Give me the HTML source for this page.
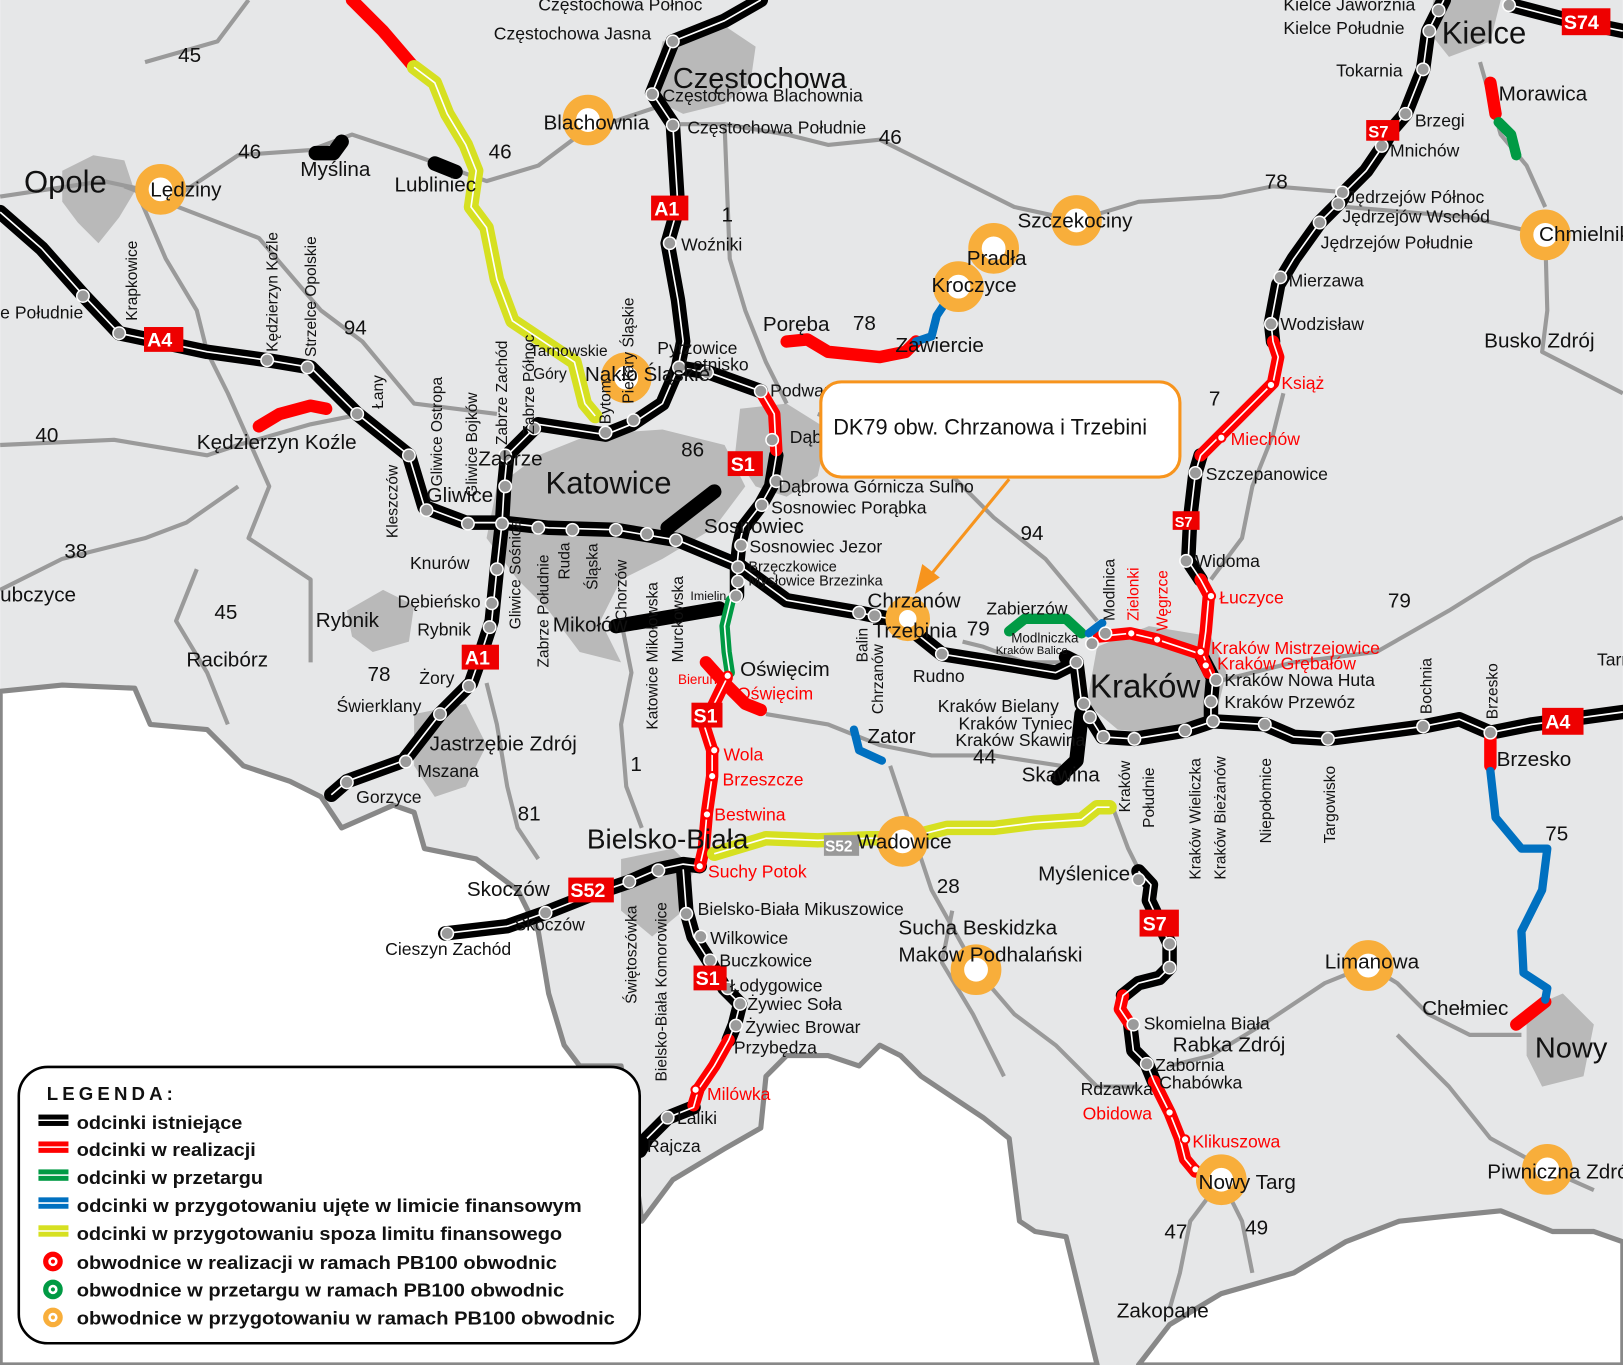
<!DOCTYPE html>
<html><head><meta charset="utf-8"><style>
html,body{margin:0;padding:0;background:#fff;}
svg{display:block}
text{font-family:"Liberation Sans",sans-serif;fill:#111}
.hw{fill:none;stroke:#000;stroke-width:14;stroke-linejoin:round;stroke-linecap:round}
.rd{fill:none;stroke:#f00;stroke-width:12;stroke-linejoin:round;stroke-linecap:round}
.gr{fill:none;stroke:#009a44;stroke-width:10;stroke-linejoin:round;stroke-linecap:round}
.bl{fill:none;stroke:#0070c0;stroke-width:8;stroke-linejoin:round;stroke-linecap:round}
.ye{fill:none;stroke:#d6e021;stroke-width:14;stroke-linejoin:round;stroke-linecap:round}
.ln{fill:none;stroke:#fff;stroke-width:1.6;stroke-linejoin:round}
.road{fill:none;stroke:#9a9a9a;stroke-width:4;stroke-linejoin:round}
.city{fill:#b9b9b9}
.n{fill:#9b9b9b;stroke:#fff;stroke-width:1.5}
.o{fill:#fff;stroke:#f8ae3b;stroke-width:13}
.rl{fill:#e00}
.s{font-size:17px}
.m{font-size:20px}
.r{fill:#f00}
</style></head><body>
<svg width="1623" height="1365" viewBox="0 0 1568 1319" xmlns="http://www.w3.org/2000/svg">
<rect width="1568" height="1319" fill="#e6e7e8"/>
<!-- white outside border -->
<path d="M0,668 L60,662 130,665 145,700 200,705 235,740 280,755 310,770 330,800 380,778 400,785 410,820 460,830 500,860 520,900 530,960 545,1010 560,1030 600,1030 620,1180 650,1140 700,1110 735,1090 740,1040 760,1020 800,1020 830,1030 850,1010 870,1020 890,1040 920,1060 950,1080 975,1100 985,1180 1000,1190 1030,1195 1060,1319 L0,1319 Z" fill="#fff" stroke="#888" stroke-width="5" stroke-linejoin="round"/>
<path d="M1100,1319 L1130,1280 1180,1250 1250,1230 1300,1200 1352,1180 1400,1175 1450,1170 1500,1190 1540,1190 1568,1200 1568,1319 Z" fill="#fff" stroke="#888" stroke-width="5" stroke-linejoin="round"/>
<!-- cities -->
<path class="city" d="M60,165 L90,150 120,155 130,185 115,210 95,235 75,215 60,195Z"/>
<path class="city" d="M640,40 L700,25 730,45 725,80 700,100 660,110 630,95Z"/>
<path class="city" d="M520,440 L570,420 640,415 700,430 720,470 690,510 640,540 600,560 580,600 600,640 560,630 530,590 500,560 470,520 480,470Z"/>
<path class="city" d="M715,395 L760,390 800,415 790,460 760,480 730,470 710,440Z"/>
<path class="city" d="M335,590 L370,570 400,585 395,620 360,630 340,615Z"/>
<path class="city" d="M1060,625 L1110,605 1170,615 1185,650 1175,690 1130,710 1080,705 1050,680Z"/>
<path class="city" d="M1385,0 L1450,0 1440,40 1400,55 1380,30Z"/>
<path class="city" d="M600,830 L650,820 670,840 660,880 630,905 600,880Z"/>
<path class="city" d="M400,690 L450,680 470,720 450,760 420,770 400,740Z"/>
<path class="city" d="M1475,975 L1510,960 1540,990 1530,1040 1490,1050 1475,1020Z"/>
<!-- gray roads -->
<g class="road">
<path d="M140,60 L210,40 240,0"/>
<path d="M0,190 L100,175 170,190 230,150 300,145 340,130 400,150 470,175 520,160 560,130 600,115 645,100"/>
<path d="M130,180 L160,250 190,300 200,340 220,380 260,470 240,520 300,560 300,640"/>
<path d="M120,180 L250,230 310,300 350,330 400,390 480,400"/>
<path d="M0,430 L110,425 200,440 230,430 300,410 350,400"/>
<path d="M0,570 L60,540 140,520 180,505 230,470"/>
<path d="M190,550 L170,600 200,650 220,700"/>
<path d="M650,120 L700,120 760,130 800,140 850,135 900,160 980,200 1040,213 1100,195 1180,190 1230,180 1290,185"/>
<path d="M700,120 L705,250 720,300 740,350 760,390"/>
<path d="M790,400 L900,440 960,500 1010,540 1060,600"/>
<path d="M1300,200 L1420,210 1493,227 1495,300 1490,340 1568,380"/>
<path d="M1430,60 L1450,130 1475,160 1493,200"/>
<path d="M1170,560 L1200,520 1210,470 1230,420 1240,380"/>
<path d="M1170,660 L1250,640 1330,630 1400,590 1480,540 1568,500"/>
<path d="M1040,640 L990,640 950,625 930,620"/>
<path d="M740,690 L800,700 850,720 900,730 960,730 1025,740"/>
<path d="M860,740 L880,800 900,860 943,937 980,980 1020,1010 1060,1050 1100,1050"/>
<path d="M1075,780 L1090,820 1100,840"/>
<path d="M1130,1030 L1170,1020 1220,990 1280,950 1322,933 1350,950 1380,980 1420,1000 1470,1000"/>
<path d="M1180,1140 L1150,1180 1140,1230 1130,1265 M1180,1140 L1200,1180 1210,1230"/>
<path d="M1350,1000 L1400,1050 1440,1100 1495,1130 1540,1150"/>
<path d="M600,600 L610,650 600,700 605,760 620,800"/>
<path d="M470,660 L480,700 490,760 500,800 520,830"/>
<path d="M920,880 L910,930 940,980 970,1040"/>
</g>
<!-- highways black -->
<g>
<path class="hw" d="M735,0 L700,20 650,40 630,90 650,120 655,200 645,235 655,290 660,330 655,355 640,390 610,410 585,420 520,410 490,440 487,470 485,505 480,550 475,600 462,640 455,660 425,690 390,735 335,755 320,768"/>
<path class="hw" d="M0,205 L40,240 80,285 115,322 200,340 258,348 300,355 345,400 395,440 410,490 450,505 485,505 530,510 595,512 655,522 715,547 760,580 830,592 870,600 910,632 960,640 1020,650 1040,640 1045,680 1065,712 1096,714 1145,706 1172,697 1222,700 1250,712 1283,714 1375,702 1410,695 1440,708 1480,700 1568,688"/>
<path class="hw" d="M655,355 L685,360 735,378"/>
<path class="hw" d="M750,440 L745,470 735,488 718,510 714,527 712,547 712,575"/>
<path class="hw" d="M676,837 L660,835 636,840 608,852 570,865 527,882 490,895 430,902"/>
<path class="hw" d="M660,840 L663,880 670,905 686,930 700,955 715,970 710,990 704,1005"/>
<path class="hw" d="M670,1070 L645,1080 625,1100 618,1112"/>
<path class="hw" d="M1460,5 L1510,18 1568,30"/>
<path class="hw" d="M1395,0 L1380,30 1375,67 1358,110 1345,125 1335,143 1320,165 1300,185 1295,195 1275,215 1250,250 1235,275 1228,312 1230,330"/>
<path class="hw" d="M1160,440 L1155,457 1150,500 1148,542 1160,560"/>
<path class="hw" d="M1040,640 L1030,635 M1045,690 L1040,735 1022,752"/>
<path class="hw" d="M1160,632 L1172,655 1170,678 1170,697"/>
<path class="hw" d="M1100,842 L1112,855 1110,870 1130,912 1130,935 1120,945 1100,950 1085,962"/>
<path class="hw" d="M1092,990 L1095,1015 1108,1028 1115,1045"/>
<path class="hw" d="M305,148 L322,148 330,137 M420,158 L440,166 M645,510 L690,475 M595,605 L695,588"/>
</g>
<!-- red -->
<g>
<path class="rd" d="M340,0 L370,30 400,65"/>
<path class="rd" d="M735,378 L748,400 750,435"/>
<path class="rd" d="M682,640 L700,660 720,680 735,686 M702,655 L690,680 680,700 688,725 688,750 683,785 680,820 676,837"/>
<path class="rd" d="M704,1005 L690,1030 675,1052 670,1068"/>
<path class="rd" d="M1230,330 L1235,345 1230,370 1200,400 1175,425 1160,440"/>
<path class="rd" d="M1160,560 L1168,575 1165,610 1162,632 M1062,615 L1092,612 1118,618 1160,632 1168,650"/>
<path class="rd" d="M1085,962 L1082,975 1092,990 M1115,1045 L1130,1075 1140,1100 1145,1120 1155,1132"/>
<path class="rd" d="M760,330 L780,328 800,340 850,345 875,340 885,330"/>
<path class="rd" d="M250,412 L270,400 300,392 315,395"/>
<path class="rd" d="M1440,80 L1445,110 M1440,708 L1440,740 M1493,968 L1465,990"/>
</g>
<path class="gr" d="M706,580 L700,605 702,630 705,650"/>
<path class="gr" d="M975,610 L990,598 1030,598 1045,612"/>
<path class="gr" d="M1448,118 L1460,130 1465,150"/>
<path class="bl" d="M885,330 L900,325 905,305 915,290"/>
<path class="bl" d="M825,705 L830,725 852,735"/>
<path class="bl" d="M1052,612 L1065,602"/>
<path class="bl" d="M1440,745 L1445,790 1470,820 1495,820 1490,860 1470,900 1472,940 1495,955 1493,966"/>
<path class="ye" d="M400,65 L420,80 432,110 450,140 460,165 455,200 470,220 480,270 495,310 525,330 555,350 560,370 565,390 575,402"/>
<path class="ye" d="M690,825 L740,810 790,812 840,810 875,810 915,800 960,800 1000,795 1045,792 1060,780 1072,780"/>
<!-- white center lines -->
<g class="ln">
<path d="M735,0 L700,20 650,40 630,90 650,120 655,200 645,235 655,290 660,330 655,355 640,390 610,410 585,420 520,410 490,440 487,470 485,505 480,550 475,600 462,640 455,660 425,690 390,735 335,755 320,768"/>
<path d="M0,205 L40,240 80,285 115,322 200,340 258,348 300,355 345,400 395,440 410,490 450,505 485,505 530,510 595,512 655,522 715,547 760,580 830,592 870,600 910,632 960,640 1020,650 1040,640 1045,680 1065,712 1096,714 1145,706 1172,697 1222,700 1250,712 1283,714 1375,702 1410,695 1440,708 1480,700 1568,688"/>
<path d="M655,355 L685,360 735,378 748,400 750,440 745,470 735,488 718,510 714,527 712,547 712,575 706,580 700,605 702,630 705,650 690,680 680,700 688,725 688,750 683,785 680,820 676,837"/>
<path d="M676,837 L660,835 636,840 608,852 570,865 527,882 490,895 430,902"/>
<path d="M660,840 L663,880 670,905 686,930 700,955 715,970 710,990 704,1005 690,1030 675,1052 670,1070 645,1080 625,1100"/>
<path d="M1395,0 L1380,30 1375,67 1358,110 1345,125 1335,143 1320,165 1300,185 1295,195 1275,215 1250,250 1235,275 1228,312 1230,330 1235,345 1230,370 1200,400 1175,425 1160,440 1155,457 1150,500 1148,542 1160,560 1168,575 1165,610 1162,632 1172,655 1170,678 1170,697"/>
<path d="M1062,615 L1092,612 1118,618 1160,632"/>
<path d="M1100,842 L1112,855 1110,870 1130,912 1130,935 1120,945 1100,950 1085,962 1082,975 1092,990 1095,1015 1108,1028 1115,1045 1130,1075 1140,1100 1145,1120 1155,1132"/>
<path d="M400,65 L420,80 432,110 450,140 460,165 455,200 470,220 480,270 495,310 525,330 555,350 560,370 565,390 575,402"/>
<path d="M690,825 L740,810 790,812 840,810 875,810 915,800 960,800 1000,795 1045,792 1060,780 1072,780"/>
<path d="M1460,5 L1510,18 1568,30"/>
</g>
<!-- nodes -->
<g class="n">
<circle cx="650" cy="40" r="6"/><circle cx="630" cy="91" r="6"/><circle cx="650" cy="121" r="6"/><circle cx="647" cy="235" r="6"/>
<circle cx="656" cy="355" r="6"/><circle cx="683" cy="360" r="6"/><circle cx="735" cy="378" r="6"/><circle cx="612" cy="406" r="6"/><circle cx="585" cy="418" r="6"/>
<circle cx="516" cy="414" r="6"/><circle cx="488" cy="440" r="6"/><circle cx="488" cy="470" r="6"/><circle cx="480" cy="550" r="6"/><circle cx="475" cy="583" r="6"/><circle cx="473" cy="606" r="6"/>
<circle cx="453" cy="663" r="6"/><circle cx="425" cy="690" r="6"/><circle cx="392" cy="736" r="6"/><circle cx="335" cy="756" r="6"/>
<circle cx="80" cy="286" r="6"/><circle cx="115" cy="322" r="6"/><circle cx="258" cy="348" r="6"/><circle cx="297" cy="355" r="6"/><circle cx="345" cy="400" r="6"/><circle cx="395" cy="440" r="6"/>
<circle cx="412" cy="493" r="6"/><circle cx="452" cy="506" r="6"/><circle cx="485" cy="506" r="6"/><circle cx="520" cy="510" r="6"/><circle cx="553" cy="512" r="6"/><circle cx="595" cy="512" r="6"/><circle cx="625" cy="516" r="6"/><circle cx="653" cy="522" r="6"/>
<circle cx="746" cy="425" r="6"/><circle cx="750" cy="465" r="6"/><circle cx="736" cy="488" r="6"/><circle cx="716" cy="527" r="6"/><circle cx="713" cy="548" r="6"/><circle cx="713" cy="562" r="6"/><circle cx="711" cy="576" r="6"/>
<circle cx="830" cy="592" r="6"/><circle cx="845" cy="595" r="6"/><circle cx="910" cy="632" r="6"/><circle cx="1040" cy="640" r="6"/><circle cx="1047" cy="680" r="6"/><circle cx="1053" cy="693" r="6"/><circle cx="1066" cy="712" r="6"/><circle cx="1096" cy="714" r="6"/><circle cx="1145" cy="706" r="6"/><circle cx="1172" cy="697" r="6"/><circle cx="1170" cy="678" r="6"/><circle cx="1175" cy="657" r="6"/><circle cx="1222" cy="700" r="6"/><circle cx="1283" cy="714" r="6"/><circle cx="1375" cy="702" r="6"/><circle cx="1440" cy="708" r="6"/>
<circle cx="1068" cy="612" r="6"/><circle cx="1055" cy="622" r="6"/>
<circle cx="636" cy="841" r="6"/><circle cx="608" cy="852" r="6"/><circle cx="527" cy="882" r="6"/><circle cx="432" cy="902" r="6"/>
<circle cx="663" cy="883" r="6"/><circle cx="677" cy="905" r="6"/><circle cx="686" cy="928" r="6"/><circle cx="703" cy="955" r="6"/><circle cx="715" cy="970" r="6"/><circle cx="711" cy="991" r="6"/><circle cx="645" cy="1080" r="6"/>
<circle cx="1390" cy="10" r="6"/><circle cx="1381" cy="30" r="6"/><circle cx="1375" cy="67" r="6"/><circle cx="1358" cy="110" r="6"/><circle cx="1335" cy="141" r="6"/><circle cx="1297" cy="186" r="6"/><circle cx="1293" cy="197" r="6"/><circle cx="1275" cy="215" r="6"/><circle cx="1237" cy="268" r="6"/><circle cx="1228" cy="313" r="6"/><circle cx="1155" cy="457" r="6"/><circle cx="1146" cy="542" r="6"/><circle cx="1458" cy="5" r="6"/>
<circle cx="1100" cy="850" r="6"/><circle cx="1130" cy="912" r="6"/><circle cx="1130" cy="935" r="6"/><circle cx="1095" cy="990" r="6"/><circle cx="1108" cy="1028" r="6"/>
</g>
<!-- red nodes -->
<g fill="#fff" stroke="#f00" stroke-width="2">
<circle cx="703" cy="653" r="4"/><circle cx="690" cy="725" r="4"/><circle cx="688" cy="750" r="4"/><circle cx="683" cy="787" r="4"/><circle cx="676" cy="837" r="4"/><circle cx="672" cy="1053" r="4"/>
<circle cx="1228" cy="372" r="4"/><circle cx="1180" cy="423" r="4"/><circle cx="1170" cy="576" r="4"/><circle cx="1093" cy="612" r="4"/><circle cx="1118" cy="618" r="4"/><circle cx="1160" cy="630" r="4"/><circle cx="1165" cy="643" r="4"/>
<circle cx="1130" cy="1075" r="4"/><circle cx="1145" cy="1101" r="4"/><circle cx="1155" cy="1130" r="4"/>
</g>
<!-- orange rings -->
<g class="o">
<circle cx="155" cy="183" r="18"/><circle cx="568" cy="116" r="18"/><circle cx="605" cy="365" r="18"/><circle cx="1040" cy="213" r="18"/><circle cx="960" cy="240" r="18"/><circle cx="926" cy="277" r="18"/><circle cx="877" cy="598" r="15"/><circle cx="1493" cy="227" r="18"/><circle cx="872" cy="813" r="18"/><circle cx="943" cy="937" r="18"/><circle cx="1322" cy="933" r="18"/><circle cx="1180" cy="1140" r="18"/><circle cx="1495" cy="1130" r="18"/>
</g>
<!-- road shields -->
<g font-family="Liberation Sans" font-weight="bold" font-size="19">
<rect class="rl" x="629" y="189" width="36" height="24"/><text x="632" y="208" fill="#fff" style="fill:#fff">A1</text>
<rect class="rl" x="139" y="316" width="38" height="24"/><text x="142" y="335" style="fill:#fff">A4</text>
<rect class="rl" x="446" y="623" width="36" height="24"/><text x="449" y="642" style="fill:#fff">A1</text>
<rect class="rl" x="703" y="436" width="34" height="24"/><text x="706" y="455" style="fill:#fff">S1</text>
<rect class="rl" x="668" y="679" width="30" height="24"/><text x="670" y="698" style="fill:#fff">S1</text>
<rect class="rl" x="670" y="933" width="32" height="24"/><text x="672" y="952" style="fill:#fff">S1</text>
<rect class="rl" x="549" y="848" width="44" height="24"/><text x="551" y="867" style="fill:#fff">S52</text>
<rect class="rl" x="1320" y="116" width="32" height="20"/><text x="1322" y="133" font-size="16" style="fill:#fff">S7</text>
<rect class="rl" x="1133" y="494" width="26" height="18"/><text x="1135" y="509" font-size="14" style="fill:#fff">S7</text>
<rect class="rl" x="1101" y="879" width="38" height="26"/><text x="1104" y="899" style="fill:#fff">S7</text>
<rect class="rl" x="1490" y="684" width="40" height="26"/><text x="1493" y="704" style="fill:#fff">A4</text>
<rect class="rl" x="1509" y="8" width="47" height="26"/><text x="1511" y="28" style="fill:#fff">S74</text>
<rect fill="#999" x="796" y="807" width="34" height="20"/><text x="797" y="823" font-size="15" style="fill:#fff">S52</text>
</g>
<!-- labels -->
<g class="m">
<text x="23" y="186" font-size="30">Opole</text>
<text x="145" y="190">Lędziny</text>
<text x="290" y="170">Myślina</text>
<text x="381" y="185">Lubliniec</text>
<text x="525" y="125">Blachownia</text>
<text x="650" y="85" font-size="28">Częstochowa</text>
<text x="477" y="38" class="s">Częstochowa Jasna</text>
<text x="520" y="10" class="s">Częstochowa Północ</text>
<text x="640" y="98" class="s">Częstochowa Blachownia</text>
<text x="664" y="129" class="s">Częstochowa Południe</text>
<text x="658" y="242" class="s">Woźniki</text>
<text x="737" y="320">Poręba</text>
<text x="865" y="340">Zawiercie</text>
<text x="900" y="282">Kroczyce</text>
<text x="934" y="256">Pradła</text>
<text x="983" y="220">Szczekociny</text>
<text x="1487" y="233">Chmielnik</text>
<text x="1434" y="336">Busko Zdrój</text>
<text x="1448" y="97">Morawica</text>
<text x="1393" y="42" font-size="30">Kielce</text>
<text x="1240" y="10" class="s">Kielce Jaworznia</text>
<text x="1240" y="33" class="s">Kielce Południe</text>
<text x="1291" y="74" class="s">Tokarnia</text>
<text x="1367" y="122" class="s">Brzegi</text>
<text x="1343" y="151" class="s">Mnichów</text>
<text x="1301" y="196" class="s">Jędrzejów Północ</text>
<text x="1297" y="215" class="s">Jędrzejów Wschód</text>
<text x="1276" y="240" class="s">Jędrzejów Południe</text>
<text x="1245" y="277" class="s">Mierzawa</text>
<text x="1237" y="319" class="s">Wodzisław</text>
<text x="1238" y="376" class="s r">Książ</text>
<text x="1189" y="430" class="s r">Miechów</text>
<text x="1165" y="464" class="s">Szczepanowice</text>
<text x="1155" y="548" class="s">Widoma</text>
<text x="1178" y="583" class="s r">Łuczyce</text>
<text x="1170" y="632" class="s r">Kraków Mistrzejowice</text>
<text x="1176" y="647" class="s r">Kraków Grębałów</text>
<text x="1183" y="663" class="s">Kraków Nowa Huta</text>
<text x="1183" y="684" class="s">Kraków Przewóz</text>
<text x="1053" y="674" font-size="32">Kraków</text>
<text x="906" y="688" class="s">Kraków Bielany</text>
<text x="926" y="705" class="s">Kraków Tyniec</text>
<text x="923" y="721" class="s">Kraków Skawina</text>
<text x="987" y="755">Skawina</text>
<text x="1446" y="740">Brzesko</text>
<text x="1003" y="851">Myślenice</text>
<text x="868" y="903">Sucha Beskidzka</text>
<text x="868" y="929">Maków Podhalański</text>
<text x="1280" y="936">Limanowa</text>
<text x="1374" y="981">Chełmiec</text>
<text x="1483" y="1022" font-size="28">Nowy</text>
<text x="1437" y="1139">Piwniczna Zdrój</text>
<text x="1105" y="995" class="s">Skomielna Biała</text>
<text x="1133" y="1016">Rabka Zdrój</text>
<text x="1116" y="1035" class="s">Zabornia</text>
<text x="1120" y="1052" class="s">Chabówka</text>
<text x="1044" y="1058" class="s">Rdzawka</text>
<text x="1046" y="1082" class="s r">Obidowa</text>
<text x="1152" y="1109" class="s r">Klikuszowa</text>
<text x="1158" y="1149">Nowy Targ</text>
<text x="1079" y="1273">Zakopane</text>
<text x="1125" y="1197">47</text><text x="1203" y="1193">49</text>
<text x="838" y="718">Zator</text>
<text x="828" y="820">Wadowice</text>
<text x="567" y="820" font-size="27">Bielsko-Biała</text>
<text x="684" y="848" class="s r">Suchy Potok</text>
<text x="674" y="884" class="s">Bielsko-Biała Mikuszowice</text>
<text x="686" y="912" class="s">Wilkowice</text>
<text x="695" y="934" class="s">Buczkowice</text>
<text x="705" y="958" class="s">Łodygowice</text>
<text x="722" y="976" class="s">Żywiec Soła</text>
<text x="720" y="998" class="s">Żywiec Browar</text>
<text x="709" y="1018" class="s">Przybędza</text>
<text x="683" y="1063" class="s r">Milówka</text>
<text x="654" y="1086" class="s">Laliki</text>
<text x="625" y="1113" class="s">Rajcza</text>
<text x="451" y="866">Skoczów</text>
<text x="497" y="899" class="s">Skoczów</text>
<text x="372" y="923" class="s">Cieszyn Zachód</text>
<text x="699" y="735" class="s r">Wola</text>
<text x="698" y="759" class="s r">Brzeszcze</text>
<text x="690" y="793" class="s r">Bestwina</text>
<text x="715" y="653">Oświęcim</text>
<text x="712" y="676" class="s r">Oświęcim</text>
<text x="655" y="661" font-size="13" class="r">Bieruń</text>
<text x="838" y="587">Chrzanów</text>
<text x="843" y="616">Trzebinia</text>
<text x="934" y="614">79</text>
<text x="953" y="594" class="s">Zabierzów</text>
<text x="977" y="621" font-size="13">Modlniczka</text>
<text x="962" y="632" font-size="11">Kraków Balice</text>
<text x="882" y="659" class="s">Rudno</text>
<text x="527" y="477" font-size="30">Katowice</text>
<text x="680" y="515">Sosnowiec</text>
<text x="724" y="534" class="s">Sosnowiec Jezor</text>
<text x="723" y="552" font-size="14">Brzęczkowice</text>
<text x="723" y="566" font-size="14">Mysłowice Brzezinka</text>
<text x="667" y="580" font-size="12">Imielin</text>
<text x="752" y="476" class="s">Dąbrowa Górnicza Sulno</text>
<text x="745" y="496" class="s">Sosnowiec Porąbka</text>
<text x="763" y="428" class="s">Dąbrowa</text>
<text x="744" y="383" class="s">Podwarpie</text>
<text x="635" y="342" class="s">Pyrzowice</text>
<text x="660" y="358" class="s">Lotnisko</text>
<text x="512" y="344" font-size="15">Tarnowskie</text>
<text x="515" y="366" font-size="15">Góry</text>
<text x="565" y="368">Nakło Śląskie</text>
<text x="462" y="450">Zabrze</text>
<text x="412" y="485">Gliwice</text>
<text x="190" y="434">Kędzierzyn Koźle</text>
<text x="396" y="550" class="s">Knurów</text>
<text x="384" y="587" class="s">Dębieńsko</text>
<text x="403" y="614" class="s">Rybnik</text>
<text x="305" y="606">Rybnik</text>
<text x="534" y="610">Mikołów</text>
<text x="180" y="644">Racibórz</text>
<text x="405" y="661" class="s">Żory</text>
<text x="325" y="688" class="s">Świerklany</text>
<text x="415" y="725">Jastrzębie Zdrój</text>
<text x="403" y="751" class="s">Mszana</text>
<text x="344" y="776" class="s">Gorzyce</text>
<text x="0" y="308" class="s">e Południe</text>
<text x="0" y="581">ubczyce</text>
<text x="172" y="60">45</text><text x="230" y="153">46</text><text x="472" y="153">46</text><text x="849" y="139">46</text>
<text x="697" y="214">1</text><text x="824" y="319">78</text><text x="332" y="323">94</text><text x="34" y="427">40</text>
<text x="62" y="539">38</text><text x="207" y="598">45</text><text x="355" y="658">78</text><text x="658" y="441">86</text>
<text x="986" y="522">94</text><text x="1168" y="392">7</text><text x="1222" y="182">78</text><text x="1341" y="587">79</text>
<text x="1493" y="812">75</text><text x="940" y="738">44</text><text x="609" y="745">1</text><text x="500" y="793">81</text><text x="905" y="863">28</text>
<text x="1543" y="643" class="s">Tarnów</text>
</g>
<!-- rotated labels -->
<g font-size="15">
<text transform="translate(132,310) rotate(-90)">Krapkowice</text>
<text transform="translate(268,340) rotate(-90)">Kędzierzyn Koźle</text>
<text transform="translate(305,345) rotate(-90)">Strzelce Opolskie</text>
<text transform="translate(370,395) rotate(-90)">Łany</text>
<text transform="translate(384,520) rotate(-90)">Kleszczów</text>
<text transform="translate(427,470) rotate(-90)">Gliwice Ostropa</text>
<text transform="translate(461,480) rotate(-90)">Gliwice Bojków</text>
<text transform="translate(490,430) rotate(-90)">Zabrze Zachód</text>
<text transform="translate(516,420) rotate(-90)">Zabrze Północ</text>
<text transform="translate(590,410) rotate(-90)">Bytom</text>
<text transform="translate(612,390) rotate(-90)">Piekary Śląskie</text>
<text transform="translate(503,608) rotate(-90)">Gliwice Sośnica</text>
<text transform="translate(530,645) rotate(-90)">Zabrze Południe</text>
<text transform="translate(550,560) rotate(-90)">Ruda</text>
<text transform="translate(577,570) rotate(-90)">Śląska</text>
<text transform="translate(605,600) rotate(-90)">Chorzów</text>
<text transform="translate(635,705) rotate(-90)">Katowice Mikołowska</text>
<text transform="translate(660,640) rotate(-90)">Murckowska</text>
<text transform="translate(838,640) rotate(-90)">Balin</text>
<text transform="translate(853,690) rotate(-90)">Chrzanów</text>
<text transform="translate(1077,600) rotate(-90)">Modlnica</text>
<text transform="translate(1100,600) rotate(-90)" class="r">Zielonki</text>
<text transform="translate(1128,610) rotate(-90)" class="r">Węgrzce</text>
<text transform="translate(1092,785) rotate(-90)">Kraków</text>
<text transform="translate(1115,800) rotate(-90)">Południe</text>
<text transform="translate(1160,850) rotate(-90)">Kraków Wieliczka</text>
<text transform="translate(1184,850) rotate(-90)">Kraków Bieżanów</text>
<text transform="translate(1228,815) rotate(-90)">Niepołomice</text>
<text transform="translate(1290,815) rotate(-90)">Targowisko</text>
<text transform="translate(1383,690) rotate(-90)">Bochnia</text>
<text transform="translate(1447,695) rotate(-90)">Brzesko</text>
<text transform="translate(615,970) rotate(-90)">Świętoszówka</text>
<text transform="translate(644,1045) rotate(-90)">Bielsko-Biała Komorowice</text>
</g>
<!-- callout -->
<rect x="793" y="369" width="347" height="92" rx="20" fill="#fff" stroke="#f7941d" stroke-width="3"/>
<text x="805" y="420" font-size="21">DK79 obw. Chrzanowa i Trzebini</text>
<path d="M975,463 L898,557" stroke="#f7941d" stroke-width="3" fill="none"/>
<path d="M884,574 L891,545 908,558 Z" fill="#f7941d"/>
<!-- legend -->
<rect x="18" y="1031" width="600" height="267" rx="28" fill="#fff" stroke="#000" stroke-width="2.5"/>
<g font-weight="bold" font-size="18">
<text x="45" y="1063" letter-spacing="4">LEGENDA:</text>
<text x="74" y="1091" textLength="160" lengthAdjust="spacingAndGlyphs">odcinki istniejące</text>
<text x="74" y="1117" textLength="173" lengthAdjust="spacingAndGlyphs">odcinki w realizacji</text>
<text x="74" y="1144" textLength="180" lengthAdjust="spacingAndGlyphs">odcinki w przetargu</text>
<text x="74" y="1171" textLength="488" lengthAdjust="spacingAndGlyphs">odcinki w przygotowaniu ujęte w limicie finansowym</text>
<text x="74" y="1198" textLength="469" lengthAdjust="spacingAndGlyphs">odcinki w przygotowaniu spoza limitu finansowego</text>
<text x="74" y="1226" textLength="464" lengthAdjust="spacingAndGlyphs">obwodnice w realizacji w ramach PB100 obwodnic</text>
<text x="74" y="1253" textLength="471" lengthAdjust="spacingAndGlyphs">obwodnice w przetargu w ramach PB100 obwodnic</text>
<text x="74" y="1280" textLength="520" lengthAdjust="spacingAndGlyphs">obwodnice w przygotowaniu w ramach PB100 obwodnic</text>
</g>
<g>
<rect x="37" y="1077" width="29" height="11" fill="#000"/><rect x="37" y="1103" width="29" height="11" fill="#f00"/><rect x="37" y="1130" width="29" height="11" fill="#009a44"/><rect x="37" y="1157" width="29" height="11" fill="#0070c0"/><rect x="37" y="1184" width="29" height="11" fill="#d6e021"/>
<g stroke="#fff" stroke-width="1.5"><line x1="37" y1="1082.5" x2="66" y2="1082.5"/><line x1="37" y1="1108.5" x2="66" y2="1108.5"/><line x1="37" y1="1135.5" x2="66" y2="1135.5"/><line x1="37" y1="1162.5" x2="66" y2="1162.5"/><line x1="37" y1="1189.5" x2="66" y2="1189.5"/></g>
<circle cx="51" cy="1219" r="7" fill="#fff" stroke="#f00" stroke-width="5"/><circle cx="51" cy="1219" r="2" fill="#f00"/>
<circle cx="51" cy="1246" r="7" fill="#fff" stroke="#009a44" stroke-width="5"/><circle cx="51" cy="1246" r="2" fill="#009a44"/>
<circle cx="51" cy="1273" r="7" fill="#fff" stroke="#f8ae3b" stroke-width="5"/><circle cx="51" cy="1273" r="2" fill="#f8ae3b"/>
</g>
</svg>
</body></html>
